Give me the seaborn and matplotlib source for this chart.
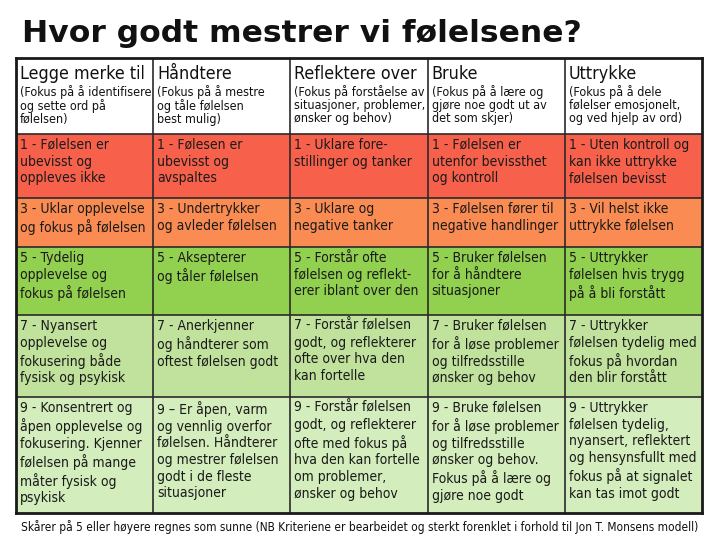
import numpy as np
import pandas as pd
import matplotlib
matplotlib.use("Agg")
import matplotlib.pyplot as plt
from matplotlib.colors import ListedColormap
import seaborn as sns

# ==============================
# DATA
# ==============================
title = "Hvor godt mestrer vi følelsene?"
footer = ("Skårer på 5 eller høyere regnes som sunne (NB Kriteriene er bearbeidet "
          "og sterkt forenklet i forhold til Jon T. Monsens modell)")

columns = ["Legge merke til", "Håndtere", "Reflektere over", "Bruke", "Uttrykke"]
focus = [
    "(Fokus på å identifisere\nog sette ord på\nfølelsen)",
    "(Fokus på å mestre\nog tåle følelsen\nbest mulig)",
    "(Fokus på forståelse av\nsituasjoner, problemer,\nønsker og behov)",
    "(Fokus på å lære og\ngjøre noe godt ut av\ndet som skjer)",
    "(Fokus på å dele\nfølelser emosjonelt,\nog ved hjelp av ord)",
]

scores = [1, 3, 5, 7, 9]

level_1 = [
    "1 - Følelsen er\nubevisst og\noppleves ikke",
    "1 - Følesen er\nubevisst og\navspaltes",
    "1 - Uklare fore-\nstillinger og tanker",
    "1 - Følelsen er\nutenfor bevissthet\nog kontroll",
    "1 - Uten kontroll og\nkan ikke uttrykke\nfølelsen bevisst",
]
level_3 = [
    "3 - Uklar opplevelse\nog fokus på følelsen",
    "3 - Undertrykker\nog avleder følelsen",
    "3 - Uklare og\nnegative tanker",
    "3 - Følelsen fører til\nnegative handlinger",
    "3 - Vil helst ikke\nuttrykke følelsen",
]
level_5 = [
    "5 - Tydelig\nopplevelse og\nfokus på følelsen",
    "5 - Aksepterer\nog tåler følelsen",
    "5 - Forstår ofte\nfølelsen og reflekt-\nerer iblant over den",
    "5 - Bruker følelsen\nfor å håndtere\nsituasjoner",
    "5 - Uttrykker\nfølelsen hvis trygg\npå å bli forstått",
]
level_7 = [
    "7 - Nyansert\nopplevelse og\nfokusering både\nfysisk og psykisk",
    "7 - Anerkjenner\nog håndterer som\noftest følelsen godt",
    "7 - Forstår følelsen\ngodt, og reflekterer\nofte over hva den\nkan fortelle",
    "7 - Bruker følelsen\nfor å løse problemer\nog tilfredsstille\nønsker og behov",
    "7 - Uttrykker\nfølelsen tydelig med\nfokus på hvordan\nden blir forstått",
]
level_9 = [
    "9 - Konsentrert og\nåpen opplevelse og\nfokusering. Kjenner\nfølelsen på mange\nmåter fysisk og\npsykisk",
    "9 – Er åpen, varm\nog vennlig overfor\nfølelsen. Håndterer\nog mestrer følelsen\ngodt i de fleste\nsituasjoner",
    "9 - Forstår følelsen\ngodt, og reflekterer\nofte med fokus på\nhva den kan fortelle\nom problemer,\nønsker og behov",
    "9 - Bruke følelsen\nfor å løse problemer\nog tilfredsstille\nønsker og behov.\nFokus på å lære og\ngjøre noe godt",
    "9 - Uttrykker\nfølelsen tydelig,\nnyansert, reflektert\nog hensynsfullt med\nfokus på at signalet\nkan tas imot godt",
]
levels = [level_1, level_3, level_5, level_7, level_9]

# ==============================
# LAYOUT / STYLE
# ==============================
row_px = [76, 64, 49, 68, 82, 116]          # header + one row per score
level_colors = ["#ffffff", "#f7614b", "#fa8b52", "#92d050", "#c0e29d", "#d4edbc"]

sns.set_theme(style="white")
plt.rcParams["font.family"] = ["DejaVu Sans"]
FS = dict(family="DejaVu Sans", stretch="condensed")

fig = plt.figure(figsize=(7.2, 5.4), dpi=100)
W, H = 720, 540
tab_l, tab_r, tab_t, tab_b = 16, 702, 58, 513
ax = fig.add_axes([tab_l / W, 1 - tab_b / H, (tab_r - tab_l) / W, (tab_b - tab_t) / H])

# colour index per table row (0 = header), stretched to the row heights
row_idx = [0] + [scores.index(s) + 1 for s in scores]
grid = np.repeat(np.array([[i] * len(columns) for i in row_idx]), row_px, axis=0)
cells = pd.DataFrame(grid, columns=columns)

sns.heatmap(cells, cmap=ListedColormap(level_colors), vmin=-0.5, vmax=len(level_colors) - 0.5,
            cbar=False, xticklabels=False, yticklabels=False, ax=ax)
ax.set_xlim(0, len(columns))
ax.set_ylim(sum(row_px), 0)

edges = np.cumsum([0] + row_px)
ax.hlines(edges[1:-1], 0, len(columns), color="#2a2a2a", lw=1.2)
ax.vlines(range(1, len(columns)), 0, sum(row_px), color="#2a2a2a", lw=1.2)
for s in ax.spines.values():
    s.set_visible(True)
    s.set_color("#1a1a1a")
    s.set_linewidth(2)

col_px = (tab_r - tab_l) / len(columns)
padx = 4 / col_px

# header
for j, (name, sub) in enumerate(zip(columns, focus)):
    ax.text(j + padx, edges[0] + 7, name, fontsize=12.8, va="top", ha="left",
            color="#111111", **FS)
    ax.text(j + padx, edges[0] + 27, sub, fontsize=9, va="top", ha="left",
            color="#111111", linespacing=1.0, **FS)

# body
for i, row in enumerate(levels):
    for j, txt in enumerate(row):
        ax.text(j + padx, edges[i + 1] + 4, txt, fontsize=10, va="top", ha="left",
                color="#1a1a1a", linespacing=1.24, **FS)

fig.text(22 / W, 1 - 33 / H, title, fontsize=22.6, fontweight="bold", ha="left", va="center",
         color="#111111")
fig.text(360 / W, 1 - 527 / H, footer, fontsize=8.6, ha="center", va="center",
         color="#111111", **FS)

fig.savefig("out.png", dpi=100)
